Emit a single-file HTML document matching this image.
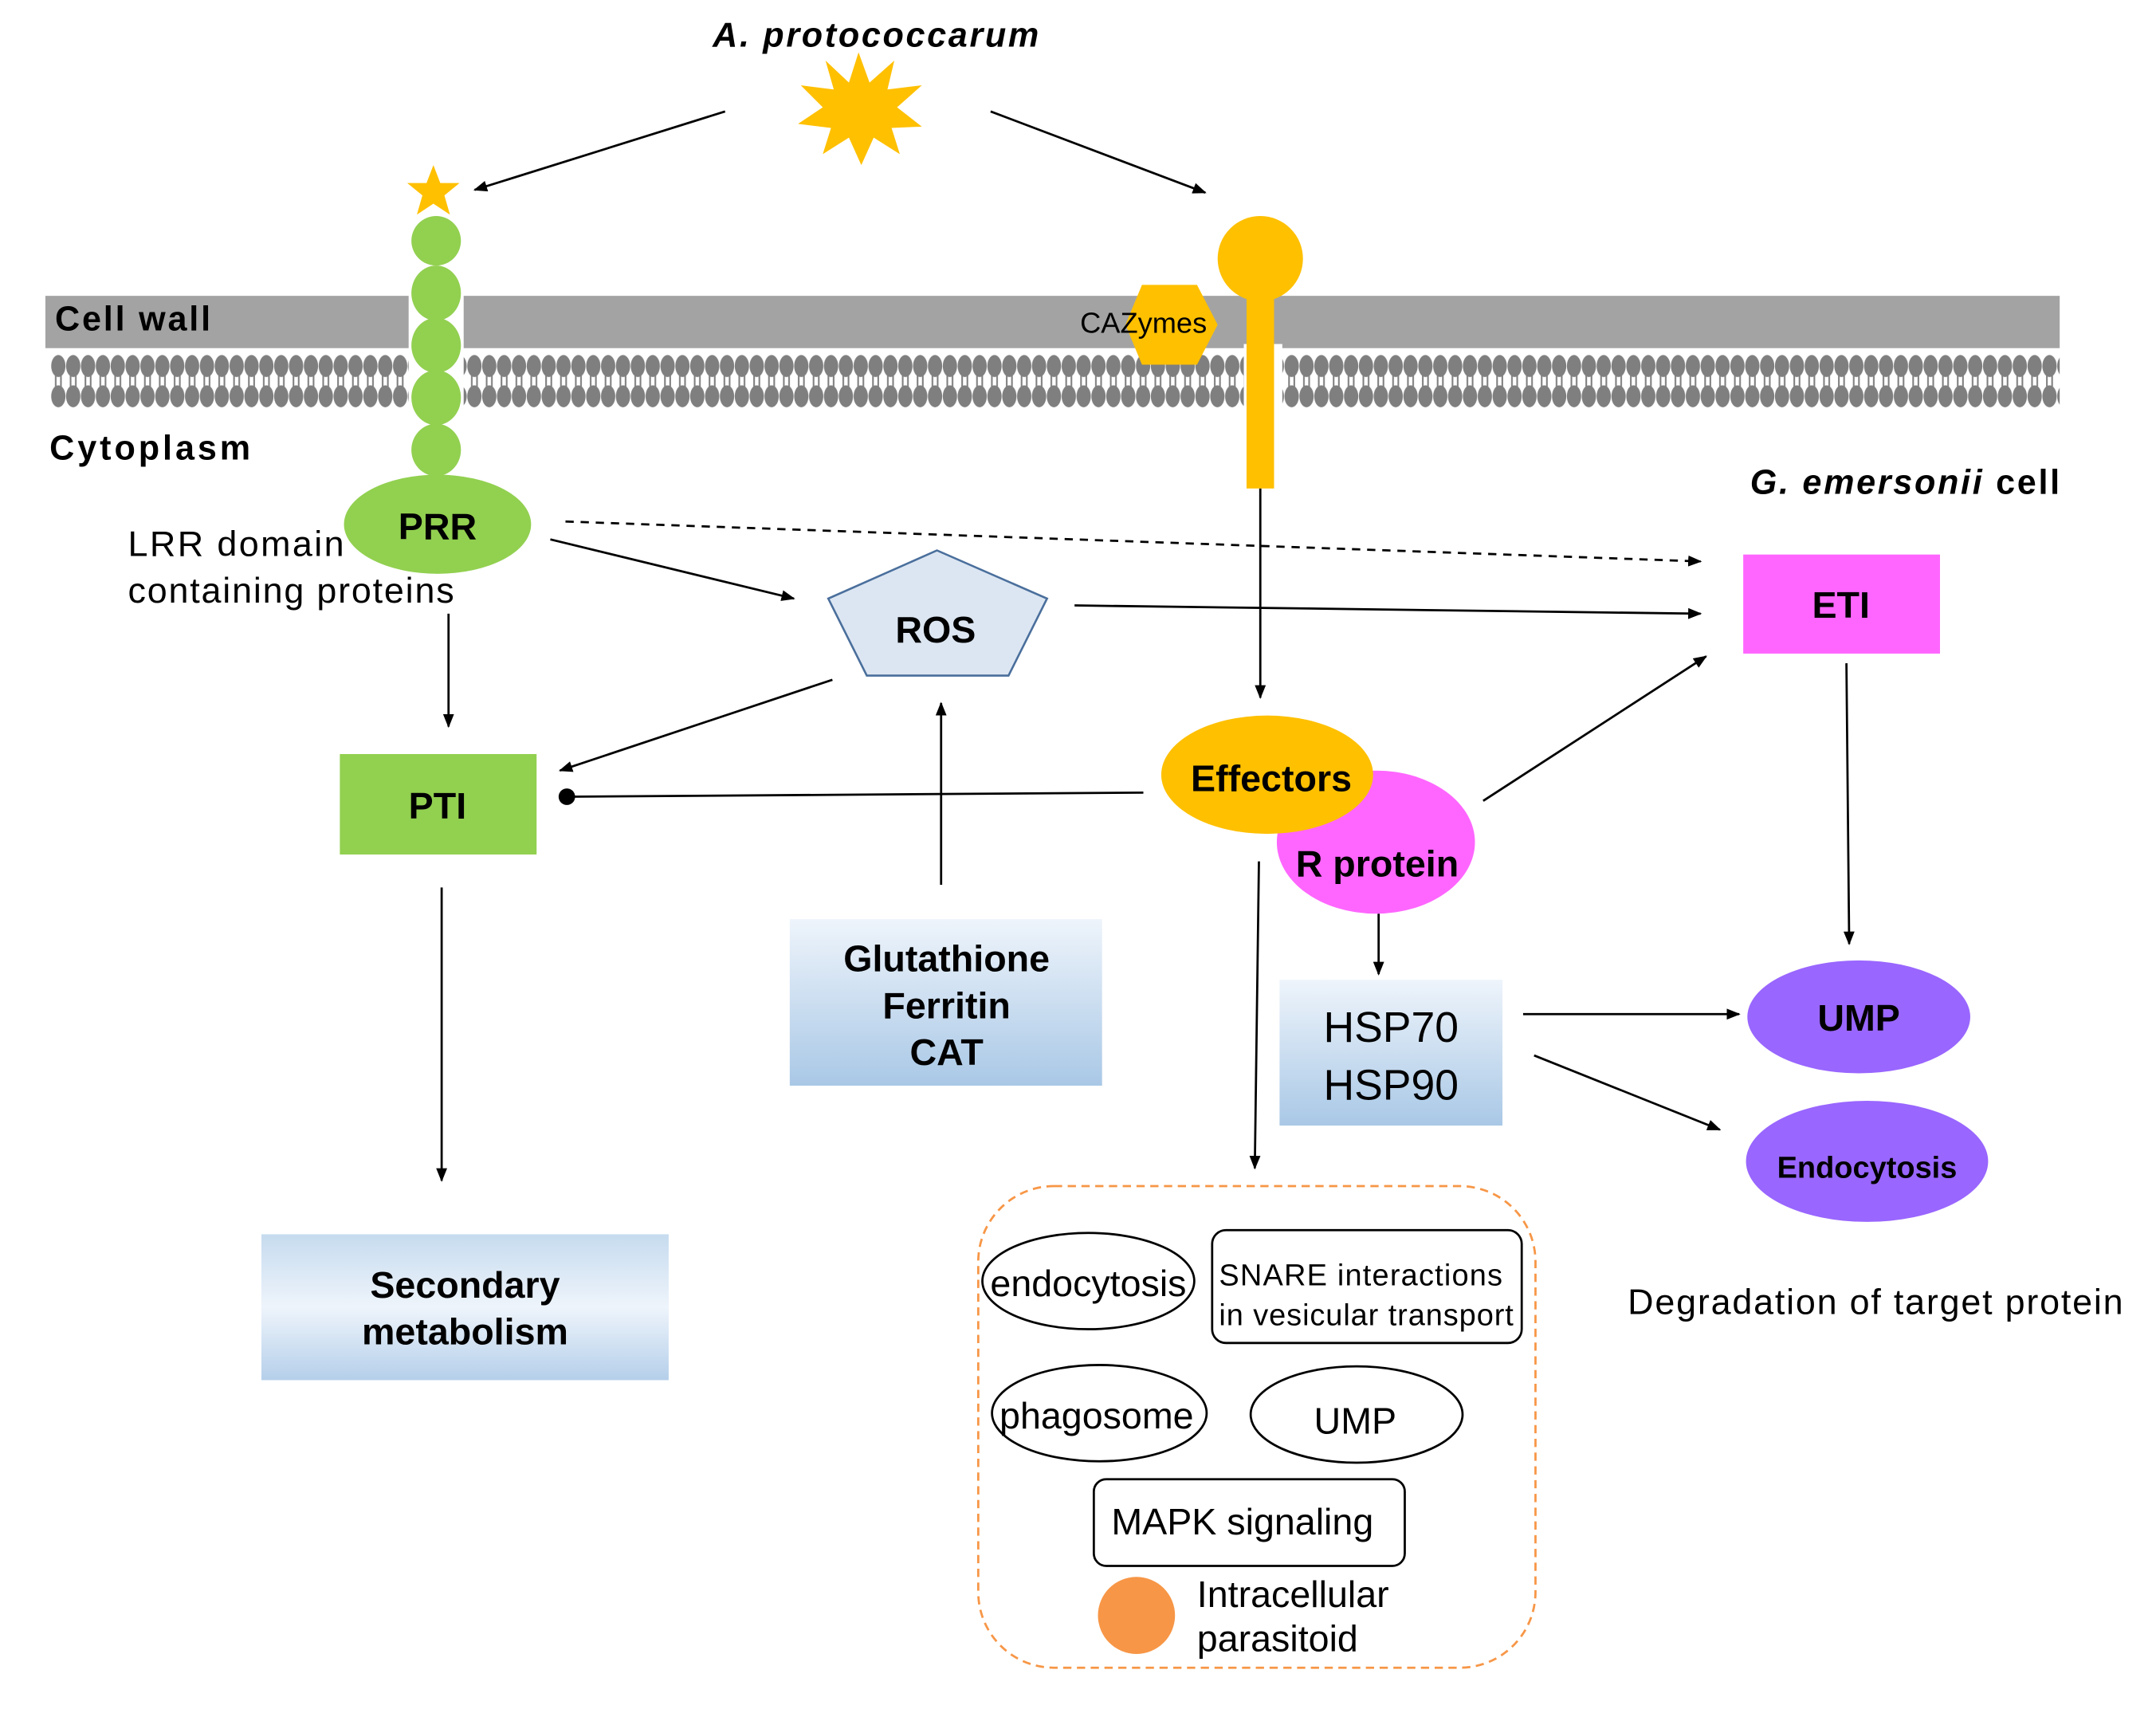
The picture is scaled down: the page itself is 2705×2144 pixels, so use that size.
<!DOCTYPE html>
<html><head><meta charset="utf-8"><style>html,body{margin:0;padding:0;background:#fff}svg{display:block}text{font-family:"Liberation Sans",Arial,sans-serif}</style></head><body>
<svg width="2705" height="2144" viewBox="0 0 1567 1242" preserveAspectRatio="none" xmlns="http://www.w3.org/2000/svg">
<defs>
<pattern id="lip" x="37" y="253" width="10.8" height="48" patternUnits="userSpaceOnUse">
<ellipse cx="5.4" cy="13" rx="5.2" ry="8" fill="#7f7f7f"/>
<ellipse cx="5.4" cy="35" rx="5.2" ry="8" fill="#7f7f7f"/>
<line x1="3.5" y1="14" x2="3.5" y2="34" stroke="#7f7f7f" stroke-width="1.2"/>
<line x1="7.3" y1="14" x2="7.3" y2="34" stroke="#7f7f7f" stroke-width="1.2"/>
</pattern>
<linearGradient id="bl" x1="0" y1="0" x2="0" y2="1"><stop offset="0" stop-color="#eef4fb"/><stop offset="1" stop-color="#a9c8e6"/></linearGradient>
<linearGradient id="bl2" x1="0" y1="0" x2="0" y2="1"><stop offset="0" stop-color="#c6dbef"/><stop offset="0.5" stop-color="#eef4fb"/><stop offset="1" stop-color="#b5cfea"/></linearGradient>
<marker id="ar" markerWidth="10" markerHeight="8" refX="9" refY="4" orient="auto" markerUnits="userSpaceOnUse"><path d="M0,0 L10,4 L0,8 z" fill="#000"/></marker>
</defs>
<rect x="33" y="215" width="1464" height="38" fill="#a3a3a3"/>
<rect x="37" y="253" width="1460" height="48" fill="url(#lip)"/>
<rect x="297" y="212" width="40" height="92" fill="#fff"/>
<rect x="904" y="250" width="28" height="55" fill="#fff"/>
<text x="40" y="240" font-size="25" font-weight="bold" textLength="113">Cell wall</text>
<text x="36" y="334" font-size="25" font-weight="bold" textLength="146">Cytoplasm</text>
<text x="1272" y="359" font-size="25" font-weight="bold" textLength="225"><tspan font-style="italic">G. emersonii</tspan> cell</text>
<text x="518" y="34" font-size="25" font-weight="bold" font-style="italic" textLength="237">A. protococcarum</text>
<polygon points="624,38 632,60 650,44 645,65 670,62 652,78 670,92 648,93 654,112 635,100 626,120 617,100 598,112 604,93 580,90 598,78 582,62 606,65 600,44 617,60" fill="#ffc000"/>
<polygon points="315,120 320,133 334,133 323,142 327,156 315,148 303,156 307,142 296,133 310,133" fill="#ffc000"/>
<g fill="#92d050"><circle cx="317" cy="175" r="18"/><ellipse cx="317" cy="213" rx="18" ry="20"/><ellipse cx="317" cy="251" rx="18" ry="20"/><ellipse cx="317" cy="289" rx="18" ry="20"/><ellipse cx="317" cy="327" rx="18" ry="19"/><ellipse cx="318" cy="381" rx="68" ry="36"/></g>
<text x="318" y="392" font-size="27" font-weight="bold" text-anchor="middle">PRR</text>
<text x="93" y="404" font-size="26" textLength="157">LRR domain</text>
<text x="93" y="438" font-size="26" textLength="237">containing proteins</text>
<circle cx="916" cy="188" r="31" fill="#ffc000"/>
<rect x="906" y="200" width="20" height="155" fill="#ffc000"/>
<polygon points="818,236 830,207 870,207 885,236 870,265 830,265" fill="#ffc000"/>
<text x="785" y="242" font-size="21">CAZymes</text>
<g stroke="#000" stroke-width="1.6" fill="none" marker-end="url(#ar)">
<line x1="527" y1="81" x2="345" y2="138"/>
<line x1="720" y1="81" x2="876" y2="140"/>
<line x1="400" y1="392" x2="577" y2="435"/>
<line x1="326" y1="446" x2="326" y2="528"/>
<line x1="605" y1="494" x2="407" y2="560"/>
<line x1="781" y1="440" x2="1236" y2="446"/>
<line x1="916" y1="355" x2="916" y2="507"/>
<line x1="684" y1="643" x2="684" y2="511"/>
<line x1="1078" y1="582" x2="1240" y2="477"/>
<line x1="1342" y1="482" x2="1344" y2="686"/>
<line x1="1002" y1="664" x2="1002" y2="708"/>
<line x1="1107" y1="737" x2="1264" y2="737"/>
<line x1="1115" y1="767" x2="1250" y2="821"/>
<line x1="915" y1="626" x2="912" y2="849"/>
<line x1="321" y1="645" x2="321" y2="858"/>
<line x1="411" y1="379" x2="1236" y2="408" stroke-dasharray="6,5"/>
</g>
<line x1="831" y1="576" x2="413" y2="579" stroke="#000" stroke-width="1.6"/>
<circle cx="412" cy="579" r="6" fill="#000"/>
<polygon points="681,400 761,435 733,491 630,491 602,435" fill="#dce6f2" stroke="#4a6f9c" stroke-width="1.5"/>
<text x="680" y="467" font-size="27" font-weight="bold" text-anchor="middle">ROS</text>
<rect x="1267" y="403" width="143" height="72" fill="#ff66ff"/>
<text x="1338" y="449" font-size="27" font-weight="bold" text-anchor="middle">ETI</text>
<rect x="247" y="548" width="143" height="73" fill="#92d050"/>
<text x="318" y="595" font-size="27" font-weight="bold" text-anchor="middle">PTI</text>
<ellipse cx="1000" cy="612" rx="72" ry="52" fill="#ff66ff"/>
<ellipse cx="921" cy="563" rx="77" ry="43" fill="#ffc000"/>
<text x="924" y="575" font-size="27" font-weight="bold" text-anchor="middle">Effectors</text>
<text x="1001" y="637" font-size="27" font-weight="bold" text-anchor="middle">R protein</text>
<rect x="574" y="668" width="227" height="121" fill="url(#bl)"/>
<text x="688" y="706" font-size="27" font-weight="bold" text-anchor="middle">Glutathione</text>
<text x="688" y="740" font-size="27" font-weight="bold" text-anchor="middle">Ferritin</text>
<text x="688" y="774" font-size="27" font-weight="bold" text-anchor="middle">CAT</text>
<rect x="930" y="712" width="162" height="106" fill="url(#bl)"/>
<text x="1011" y="757" font-size="31" text-anchor="middle">HSP70</text>
<text x="1011" y="799" font-size="31" text-anchor="middle">HSP90</text>
<ellipse cx="1351" cy="739" rx="81" ry="41" fill="#9966ff"/>
<text x="1351" y="749" font-size="27" font-weight="bold" text-anchor="middle">UMP</text>
<ellipse cx="1357" cy="844" rx="88" ry="44" fill="#9966ff"/>
<text x="1357" y="856" font-size="22" font-weight="bold" text-anchor="middle">Endocytosis</text>
<text x="1183" y="955" font-size="26" textLength="360">Degradation of target protein</text>
<rect x="190" y="897" width="296" height="106" fill="url(#bl2)"/>
<text x="338" y="943" font-size="27" font-weight="bold" text-anchor="middle">Secondary</text>
<text x="338" y="977" font-size="27" font-weight="bold" text-anchor="middle">metabolism</text>
<rect x="711" y="862" width="405" height="350" rx="55" fill="none" stroke="#f79646" stroke-width="1.6" stroke-dasharray="6,4"/>
<g stroke="#000" stroke-width="1.6" fill="none">
<ellipse cx="791" cy="931" rx="77" ry="35"/>
<rect x="881" y="894" width="225" height="82" rx="10"/>
<ellipse cx="799" cy="1027" rx="78" ry="35"/>
<ellipse cx="986" cy="1028" rx="77" ry="35"/>
<rect x="795" y="1075" width="226" height="63" rx="9"/>
</g>
<text x="791" y="942" font-size="27" text-anchor="middle">endocytosis</text>
<text x="886" y="934" font-size="22" textLength="206">SNARE interactions</text>
<text x="886" y="963" font-size="22" textLength="214">in vesicular transport</text>
<text x="797" y="1038" font-size="27" text-anchor="middle">phagosome</text>
<text x="985" y="1042" font-size="27" text-anchor="middle">UMP</text>
<text x="903" y="1115" font-size="27" text-anchor="middle">MAPK signaling</text>
<circle cx="826" cy="1174" r="28" fill="#f79646"/>
<text x="870" y="1168" font-size="27">Intracellular</text>
<text x="870" y="1200" font-size="27">parasitoid</text>
</svg>
</body></html>
